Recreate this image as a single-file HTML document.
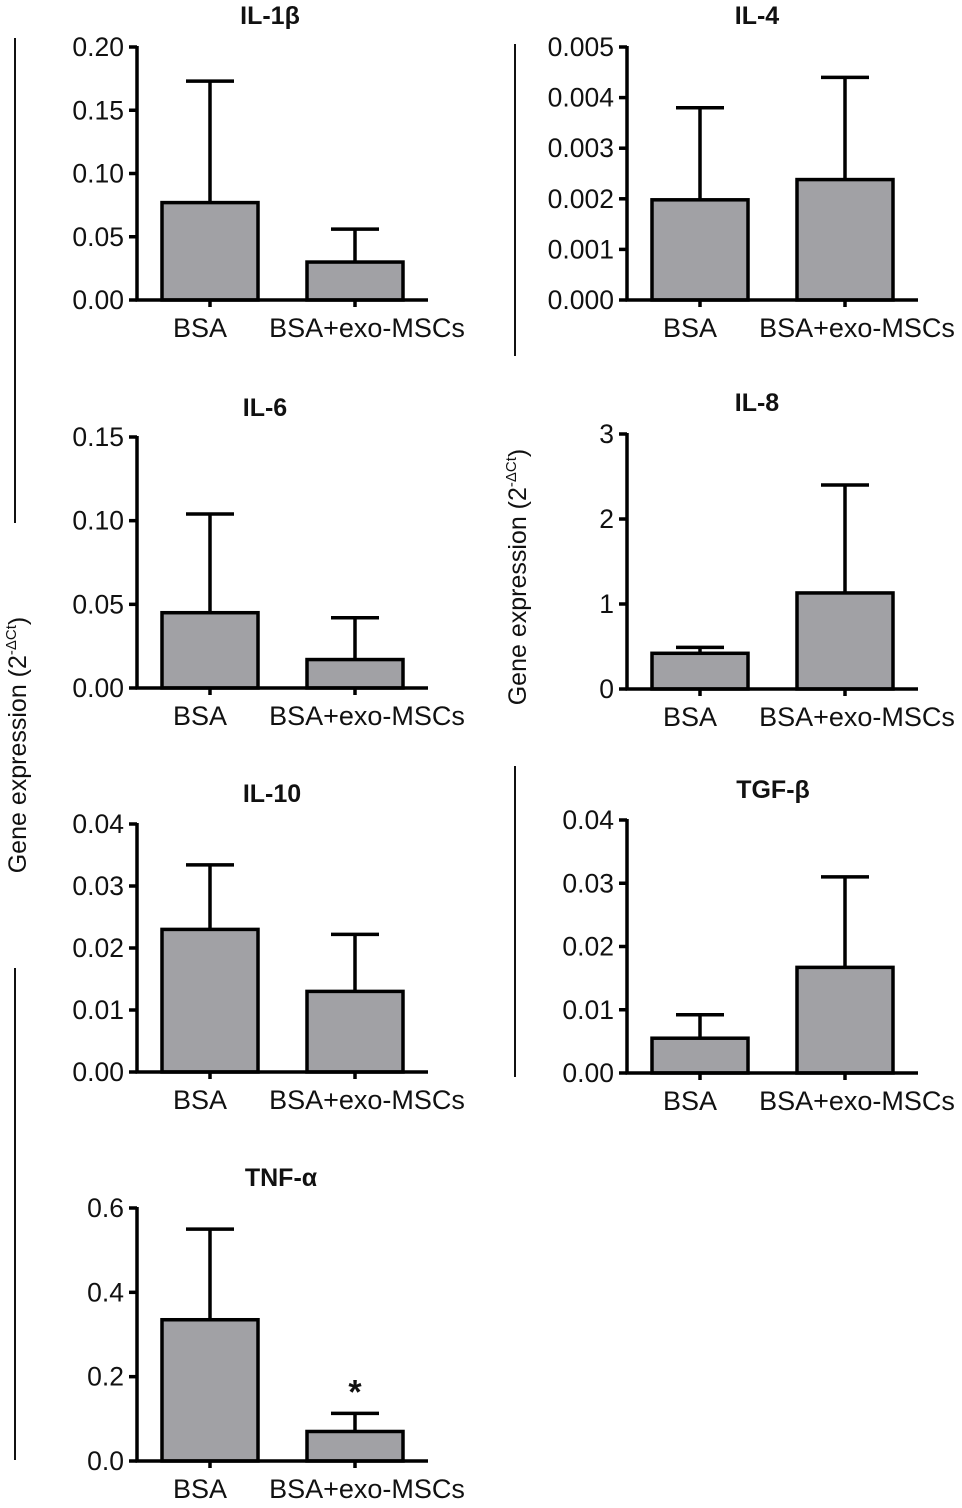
<!DOCTYPE html>
<html><head><meta charset="utf-8">
<style>
body{margin:0;background:#fff;}
svg text{font-family:"Liberation Sans",Arial,sans-serif;fill:#111;}
</style></head>
<body>
<svg id="chart" width="962" height="1503" viewBox="0 0 962 1503" xmlns="http://www.w3.org/2000/svg">
<line x1="15" y1="38" x2="15" y2="523" stroke="#111" stroke-width="2"/>
<line x1="15" y1="968" x2="15" y2="1460" stroke="#111" stroke-width="2"/>
<line x1="515" y1="44" x2="515" y2="356" stroke="#111" stroke-width="2"/>
<line x1="515" y1="766" x2="515" y2="1077" stroke="#111" stroke-width="2"/>
<text transform="translate(26,745) rotate(-90)" text-anchor="middle" font-size="25">Gene expression (2<tspan dy="-10" font-size="15">-ΔCt</tspan><tspan dy="10">)</tspan></text>
<text transform="translate(526,577) rotate(-90)" text-anchor="middle" font-size="25">Gene expression (2<tspan dy="-10" font-size="15">-ΔCt</tspan><tspan dy="10">)</tspan></text>
</svg>
<script>
const titles=["IL-1β","IL-4","IL-6","IL-8","IL-10","TGF-β","TNF-α"];
const categories=["BSA","BSA+exo-MSCs"];
const means=[[0.077,0.030],[0.00198,0.00238],[0.045,0.017],[0.42,1.13],[0.023,0.013],[0.0055,0.0167],[0.335,0.070]];
const errTops=[[0.173,0.056],[0.0038,0.0044],[0.104,0.042],[0.49,2.40],[0.0334,0.0222],[0.0092,0.031],[0.55,0.113]];
const yMax=[0.20,0.005,0.15,3,0.04,0.04,0.6];
const yTicks=[["0.00","0.05","0.10","0.15","0.20"],["0.000","0.001","0.002","0.003","0.004","0.005"],["0.00","0.05","0.10","0.15"],["0","1","2","3"],["0.00","0.01","0.02","0.03","0.04"],["0.00","0.01","0.02","0.03","0.04"],["0.0","0.2","0.4","0.6"]];
const significance=[["",""],["",""],["",""],["",""],["",""],["",""],["","*"]];
const L=[{x:137,t:47,b:300,tx:270,ty:15},{x:627,t:47,b:300,tx:757,ty:15},{x:137,t:437,b:688,tx:265,ty:407},{x:627,t:434,b:689,tx:757,ty:402},{x:137,t:824,b:1072,tx:272,ty:793},{x:627,t:820,b:1073,tx:773,ty:789},{x:137,t:1208,b:1461,tx:281,ty:1177}];
const labelShift=[-10,12];
const svg=document.getElementById('chart');
const NS="http://www.w3.org/2000/svg";
function mk(tag,attrs,parent){const e=document.createElementNS(NS,tag);for(const k in attrs)e.setAttribute(k,attrs[k]);(parent||svg).appendChild(e);return e;}
titles.forEach((title,p)=>{
  const l=L[p];
  const g=mk('g',{});
  
  
  const y=v=>l.b-(v/yMax[p])*(l.b-l.t);
  const xc=i=>l.x+73+i*145;
  const t=mk('text',{x:l.tx,y:l.ty+9,'text-anchor':'middle','font-size':'25','font-weight':'bold'},g);
  t.textContent=title;
  
  
  categories.forEach((c,i)=>{
    const cx=xc(i);
    const et=mk('line',{x1:cx,x2:cx,y1:y(errTops[p][i]),y2:y(means[p][i]),stroke:'#000','stroke-width':3.5},g);
    
    
    const cap=mk('line',{x1:cx-24,x2:cx+24,y1:y(errTops[p][i]),y2:y(errTops[p][i]),stroke:'#000','stroke-width':3.5},g);
    
    
    const r=mk('rect',{x:cx-48,y:y(means[p][i]),width:96,height:l.b-y(means[p][i]),fill:'#a1a1a5',stroke:'#000','stroke-width':3.5},g);
    
    
    const tk=mk('line',{x1:cx,x2:cx,y1:l.b,y2:l.b+7,stroke:'#000','stroke-width':3.5},g);
    
    
    const lb=mk('text',{x:cx+labelShift[i],y:l.b+37,'text-anchor':'middle','font-size':'27'},g);
    lb.textContent=c;
    
    
    if(significance[p][i]){
      const s=mk('text',{x:cx,y:y(errTops[p][i])-10,'text-anchor':'middle','font-size':'34','font-weight':'bold'},g);
      s.textContent=significance[p][i];
      
      
    }
  });
  const ya=mk('line',{x1:l.x,x2:l.x,y1:l.t-1,y2:l.b+1.5,stroke:'#000','stroke-width':3.5},g);
  
  
  const xa=mk('line',{x1:l.x-1.5,x2:l.x+291,y1:l.b,y2:l.b,stroke:'#000','stroke-width':3.5},g);
  
  
  const n=yTicks[p].length;
  yTicks[p].forEach((lab,k)=>{
    const v=yMax[p]*k/(n-1);
    const yy=y(v);
    const tk=mk('line',{x1:l.x-8,x2:l.x,y1:yy,y2:yy,stroke:'#000','stroke-width':3.5},g);
    
    
    const tx=mk('text',{x:l.x-13,y:yy+9,'text-anchor':'end','font-size':'26.5'},g);
    tx.textContent=lab;
    
    
  });
});
</script>
</body></html>
